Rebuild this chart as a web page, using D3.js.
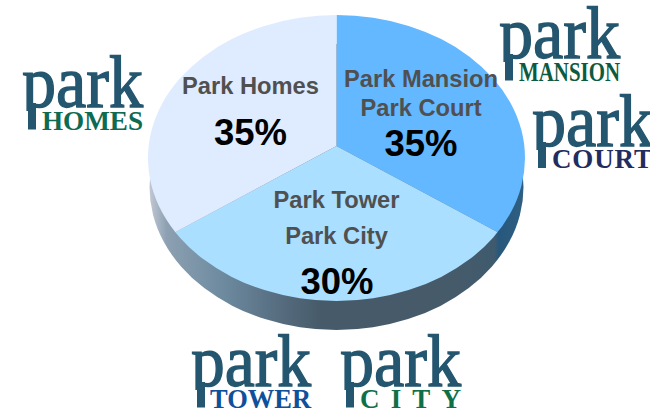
<!DOCTYPE html>
<html><head><meta charset="utf-8">
<script src="https://cdn.jsdelivr.net/npm/d3@7"></script>
<style>html,body{margin:0;padding:0;background:#fff}svg{display:block}</style></head>
<body><svg id="c" width="650" height="411"></svg>
<script>
const sliceNames = ["Park Mansion / Park Court","Park Tower / Park City","Park Homes"];
const sliceValues = [35,30,35];
const sliceColors = ["#63b8ff","#aadfff","#dfecff"];
const labelLines = [["Park Mansion","Park Court"],["Park Tower","Park City"],["Park Homes"]];
const logoWords = ["HOMES","MANSION","COURT","TOWER","CITY"];
const logoColors = ["#0f6a52","#0c5a40","#222c5e","#10509a","#0f7048"];

const svg = d3.select("#c");
const defs = svg.append("defs");
const cx=336.5, cy=158, rx=188.5, ry=143, depth=29, apexY=146, squash=0.735;

const sg = defs.append("linearGradient").attr("id","side").attr("gradientUnits","userSpaceOnUse")
  .attr("x1",148).attr("x2",525).attr("y1",0).attr("y2",0);
[[0,"#c6ccd6"],[.05,"#8ca0b2"],[.2,"#6d8a9f"],[.33,"#597083"],[.46,"#465a69"],[.8,"#465b6a"],[.92,"#3f5a6e"],[.93,"#27587c"],[1,"#2f5f82"]]
 .forEach(d=>sg.append("stop").attr("offset",d[0]).attr("stop-color",d[1]));

defs.append("clipPath").attr("id","top").append("ellipse")
  .attr("cx",cx).attr("cy",cy).attr("rx",rx).attr("ry",ry);

svg.append("ellipse").attr("cx",cx).attr("cy",cy+depth).attr("rx",rx-1.5).attr("ry",ry)
  .attr("fill","url(#side)");

const pie = d3.pie().sort(null).value(d=>d)(sliceValues);
const arc = d3.arc().innerRadius(0).outerRadius(420);
svg.append("g").attr("clip-path","url(#top)")
  .append("g").attr("transform",`translate(${cx},${apexY}) scale(1,${squash})`)
  .selectAll("path").data(pie).join("path")
  .attr("d",arc).attr("fill",(d,i)=>sliceColors[i]);

const labelPos = [
 {x:421,ys:[87,116],px:421,py:156},
 {x:336.5,ys:[208,244],px:337,py:294},
 {x:250.5,ys:[94],px:250.5,py:145}];
const font="'Liberation Sans',Arial,sans-serif";
labelPos.forEach((p,i)=>{
  labelLines[i].forEach((t,j)=>svg.append("text").attr("x",p.x).attr("y",p.ys[j])
    .attr("text-anchor","middle").attr("font-family",font).attr("font-weight",700)
    .attr("font-size",23.7).attr("fill","#505050").text(t));
  svg.append("text").attr("x",p.px).attr("y",p.py).attr("text-anchor","middle")
    .attr("font-family",font).attr("font-weight",700).attr("font-size",36.5)
    .attr("fill","#000").text(sliceValues[i]+"%");
});

const logos=[{x:22,y:107,sx:42,w:121,sw:101,by:129.5},
 {x:499,y:58,sx:519,w:121,sw:101,by:80.5},
 {x:532,y:146,sx:552,w:121,sw:100,by:168},
 {x:191,y:386,sx:210,w:120,sw:101,by:407.5},
 {x:340,y:386,sx:360,w:121,sw:101,by:407.5}];
const serif="'Liberation Serif','Times New Roman',serif";
logos.forEach((l,i)=>{
  svg.append("text").attr("x",l.x).attr("y",l.y).attr("font-family",serif)
    .attr("font-size",75).attr("fill","#24566f").attr("stroke","#24566f").attr("stroke-width",1.4)
    .attr("textLength",l.w).attr("lengthAdjust","spacingAndGlyphs").text("park");
  // hide the font's short p foot, then extend the stem to the subtitle's baseline
  svg.append("rect").attr("x",l.x-2).attr("y",l.y+4).attr("width",26).attr("height",20).attr("fill","#fff");
  svg.append("rect").attr("x",l.x+6).attr("y",l.y-4).attr("width",8).attr("height",l.by-l.y+4).attr("fill","#24566f");
  svg.append("text").attr("x",l.sx).attr("y",l.by).attr("font-family",serif)
    .attr("font-weight",700).attr("font-size",27).attr("fill",logoColors[i])
    .attr("textLength",l.sw).attr("lengthAdjust",logoWords[i]==="CITY"||logoWords[i]==="COURT"?"spacing":"spacingAndGlyphs")
    .text(logoWords[i]);
});
</script></body></html>
